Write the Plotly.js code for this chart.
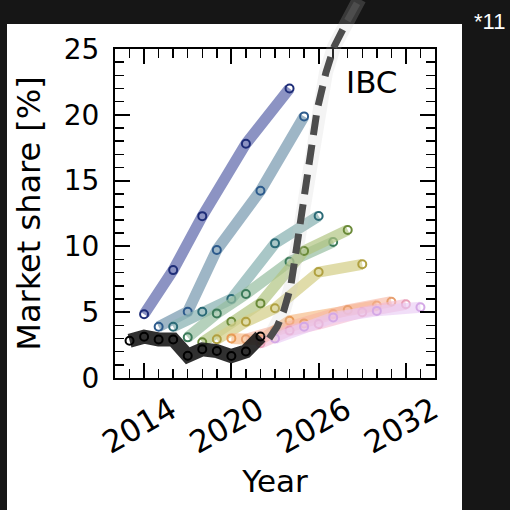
<!DOCTYPE html>
<html><head><meta charset="utf-8">
<script src="https://cdn.plot.ly/plotly-3.0.1.min.js"></script>
<style>html,body{margin:0;padding:0;background:#161616;}#chart{width:510px;height:510px;}</style>
</head><body><div id="chart"></div>
<script>
// ---- data ----
const xTickVals = [2014, 2020, 2026, 2032];
const xTickText = ['2014', '2020', '2026', '2032'];
const yTickVals = [0, 5, 10, 15, 20, 25];
const yTickText = ['0', '5', '10', '15', '20', '25'];

const yearsA = [2014, 2016, 2018, 2021, 2024];
const valsA  = [4.85, 8.2, 12.3, 17.8, 22.0];
const yearsB = [2015, 2017, 2019, 2022, 2025];
const valsB  = [3.9, 5.04, 9.73, 14.23, 19.88];
const yearsC = [2016, 2018, 2020, 2023, 2026];
const valsC  = [3.9, 5.04, 6.0, 10.23, 12.31];
const yearsD = [2017, 2019, 2021, 2024, 2027];
const valsD  = [3.09, 4.91, 6.38, 8.84, 10.33];
const yearsE = [2018, 2020, 2022, 2025, 2028];
const valsE  = [2.71, 4.28, 5.67, 9.65, 11.25];
const yearsF = [2019, 2021, 2023, 2026, 2029];
const valsF  = [2.94, 4.28, 5.3, 8.05, 8.64];
const yearsG = [2020, 2022, 2024, 2027, 2030];
const valsG  = [3.01, 2.9, 4.35, 4.86, 5.5];
const yearsH = [2021, 2023, 2025, 2028, 2031];
const valsH  = [2.94, 3.6, 4.15, 5.17, 5.8];
const yearsI = [2022, 2024, 2026, 2029, 2032];
const valsI  = [2.64, 3.6, 4.1, 5.0, 5.6];
const yearsJ = [2023, 2025, 2027, 2030, 2033];
const valsJ  = [3.0, 3.9, 4.6, 5.1, 5.37];

const yearsHist = [2013, 2014, 2015, 2016, 2017, 2018, 2019, 2020, 2021, 2022];
const valsHist  = [2.83, 3.14, 2.93, 2.93, 1.69, 2.18, 2.05, 1.67, 2.02, 3.15];

const yearsProj = [2022.6, 2023.15, 2023.6, 2024.07, 2024.35, 2024.64, 2025.1, 2025.5, 2025.9, 2026.5, 2027.06, 2027.9, 2028.8];
const valsProj  = [3.0, 3.9, 5.1, 6.9, 8.9, 11.0, 14.7, 17.7, 20.4, 23.2, 25.17, 27.0, 28.8];

// ---- styles ----
const series = [
  {x: yearsA, y: valsA, line: 'rgba(120,128,184,0.85)', mk: '#1e2d78'},
  {x: yearsB, y: valsB, line: 'rgba(134,164,184,0.8)', mk: '#2c5a8c'},
  {x: yearsC, y: valsC, line: 'rgba(140,180,180,0.75)', mk: '#2a6a76'},
  {x: yearsD, y: valsD, line: 'rgba(150,190,160,0.7)', mk: '#3b7a5a'},
  {x: yearsE, y: valsE, line: 'rgba(176,196,130,0.7)', mk: '#6a8a38'},
  {x: yearsF, y: valsF, line: 'rgba(214,208,140,0.75)', mk: '#b0a040'},
  {x: yearsG, y: valsG, line: 'rgba(246,190,140,0.7)', mk: '#e89a55'},
  {x: yearsH, y: valsH, line: 'rgba(246,180,160,0.6)', mk: '#e8a070'},
  {x: yearsI, y: valsI, line: 'rgba(244,184,210,0.6)', mk: '#e8a0b8'},
  {x: yearsJ, y: valsJ, line: 'rgba(232,200,244,0.6)', mk: '#d4a8e6'}
];

const traces = series.map(s => ({
  x: s.x, y: s.y, xaxis: 'x', yaxis: 'y', type: 'scatter', mode: 'lines+markers',
  line: {color: s.line, width: 11},
  marker: {symbol: 'circle-open', size: 8, color: s.mk, line: {width: 2}},
  hoverinfo: 'skip', showlegend: false
}));

traces.push({
  x: yearsHist, y: valsHist, xaxis: 'x', yaxis: 'y', type: 'scatter', mode: 'lines+markers',
  line: {color: 'rgba(30,30,30,0.92)', width: 14},
  marker: {symbol: 'circle-open', size: 8, color: '#000', line: {width: 2}},
  hoverinfo: 'skip', showlegend: false
});

// projection (glow + dashed), on an overlay axis pair that reaches the top of the figure
traces.push({
  x: yearsProj, y: valsProj, xaxis: 'x2', yaxis: 'y2', type: 'scatter', mode: 'lines',
  line: {color: 'rgba(200,200,200,0.2)', width: 14},
  hoverinfo: 'skip', showlegend: false
});
traces.push({
  x: yearsProj, y: valsProj, xaxis: 'x2', yaxis: 'y2', type: 'scatter', mode: 'lines',
  line: {color: '#4d4d4d', width: 7, dash: '20px,10px'},
  hoverinfo: 'skip', showlegend: false
});

const FONT = 'DejaVu Sans';
const W = 510, H = 510;
const mL = 115, mR = 75, mT = 0, mB = 132;
const plotTopPx = 49;
const paperH = H - mT - mB;
const yDomTop = (paperH - (plotTopPx - mT)) / paperH;

const axisCommon = {
  showline: true, linecolor: '#000', linewidth: 2, mirror: 'ticks',
  ticks: 'inside', ticklen: 15, tickwidth: 2, tickcolor: '#000',
  showgrid: false, zeroline: false,
  tickfont: {family: FONT, size: 28, color: '#000'}
};

const layout = {
  width: W, height: H,
  margin: {l: mL, r: mR, t: mT, b: mB, pad: 0},
  paper_bgcolor: '#161616', plot_bgcolor: 'rgba(0,0,0,0)',
  font: {family: FONT, color: '#000'},
  showlegend: false,
  xaxis: Object.assign({}, axisCommon, {
    range: [2012, 2034], domain: [0, 1], anchor: 'y',
    tickmode: 'array', tickvals: xTickVals, ticktext: xTickText, tickangle: -30,
    tickfont: {family: FONT, size: 31, color: '#000'},
    ticklabelshift: 27, ticklabelstandoff: 0,
    minor: {tick0: 2012, dtick: 1, ticks: 'inside', ticklen: 9, tickwidth: 1.5, tickcolor: '#000', showgrid: false},
    title: {text: 'Year', font: {family: FONT, size: 31, color: '#000'}}
  }),
  yaxis: Object.assign({}, axisCommon, {
    range: [0, 25], domain: [0, yDomTop], anchor: 'x',
    tickmode: 'array', tickvals: yTickVals, ticktext: yTickText,
    ticklabelstandoff: 8,
    minor: {tick0: 0, dtick: 1, ticks: 'inside', ticklen: 9, tickwidth: 1.5, tickcolor: '#000', showgrid: false},
    title: {text: 'Market share [%]', font: {family: FONT, size: 32, color: '#000'}}
  }),
  xaxis2: {range: [2012, 2034], domain: [0, 1], anchor: 'y2', visible: false, fixedrange: true},
  yaxis2: {range: [0, 25 / yDomTop], domain: [0, 1], anchor: 'x2', visible: false, fixedrange: true},
  shapes: [
    {type: 'rect', xref: 'paper', yref: 'paper', layer: 'below',
     x0: (7 - mL) / (W - mL - mR), x1: (462 - mL) / (W - mL - mR),
     y0: (H - mB - 512) / paperH, y1: (H - mB - 24) / paperH,
     fillcolor: '#ffffff', line: {width: 0}}
  ],
  annotations: [
    {text: 'IBC', xref: 'x domain', yref: 'y domain', x: (372 - mL) / (W - mL - mR), y: ((H - mB) - 82) / (H - mB - plotTopPx),
     showarrow: false, xanchor: 'center', yanchor: 'middle', font: {family: FONT, size: 31, color: '#000'}},
    {text: '*11', xref: 'paper', yref: 'paper', x: (489 - mL) / (W - mL - mR), y: ((H - mB) - 21) / paperH,
     showarrow: false, xanchor: 'center', yanchor: 'middle', font: {family: 'Liberation Sans', size: 22, color: '#ffffff'}}
  ]
};

Plotly.newPlot('chart', traces, layout, {staticPlot: true, displayModeBar: false});
</script>
</body></html>
